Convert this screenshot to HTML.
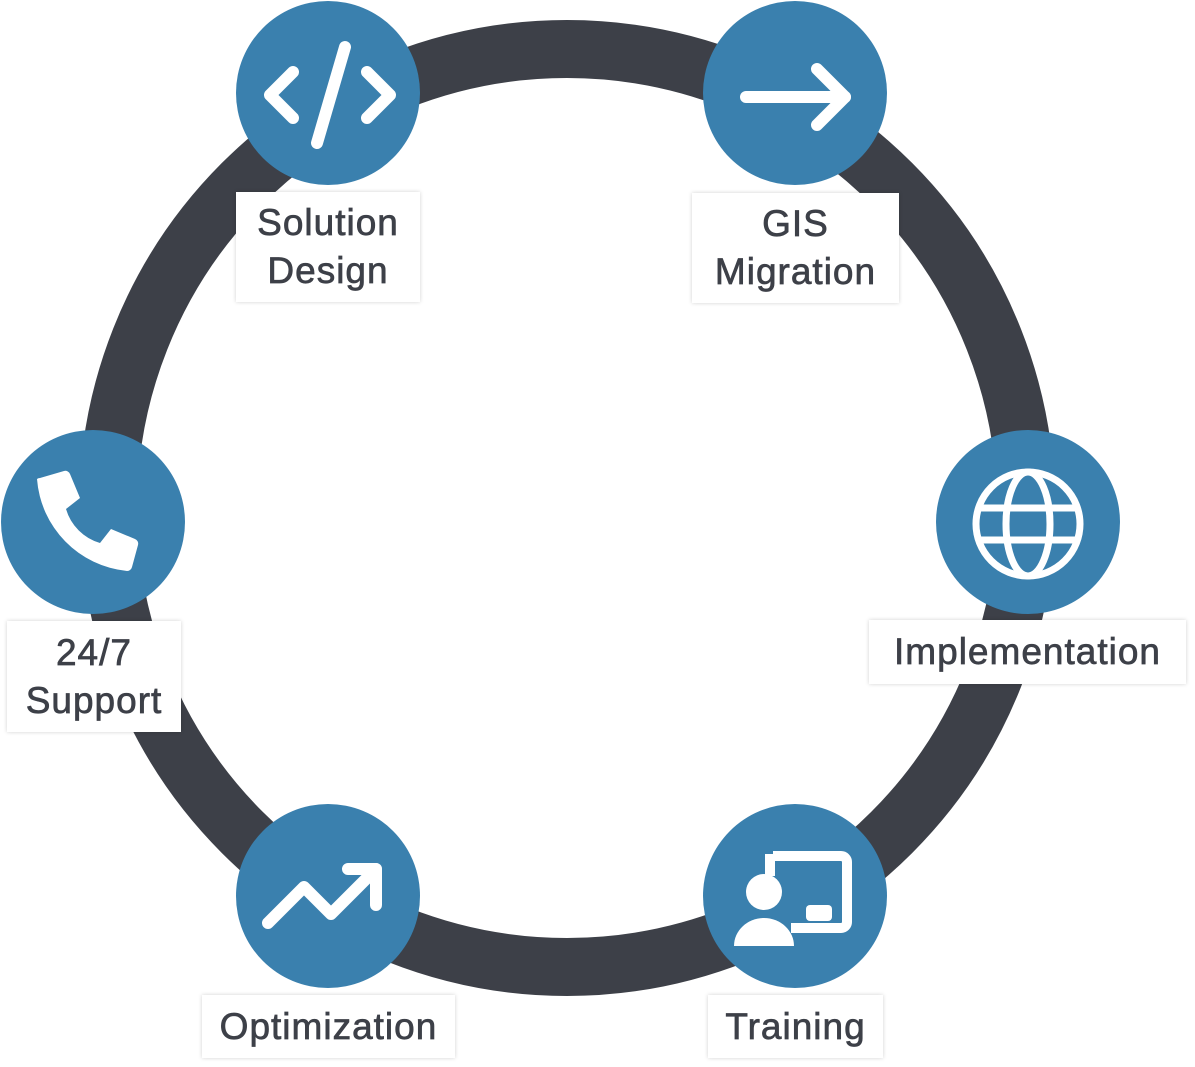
<!DOCTYPE html>
<html><head><meta charset="utf-8"><style>
html,body{margin:0;padding:0;background:#fff;width:1195px;height:1067px;overflow:hidden}
.lb{position:absolute;background:#fff;box-shadow:0 0 4px rgba(0,0,0,0.18);font-family:"Liberation Sans",sans-serif;font-size:37px;letter-spacing:1px;-webkit-text-stroke:0.7px #3d4048;color:#3d4048;text-align:center;line-height:48px;display:flex;align-items:center;justify-content:center}
</style></head><body>
<svg width="1195" height="1067" style="position:absolute;left:0;top:0">
<circle cx="567" cy="508" r="459" fill="none" stroke="#3d4048" stroke-width="58"/>
<g fill="#3a80ae">
<circle cx="328" cy="93" r="92"/><circle cx="795" cy="93" r="92"/>
<circle cx="1028" cy="522" r="92"/><circle cx="795" cy="896" r="92"/>
<circle cx="328" cy="896" r="92"/><circle cx="93" cy="522" r="92"/>
</g>
<g stroke="#fff" stroke-width="12" stroke-linecap="round" stroke-linejoin="round" fill="none">
<polyline points="293,72 270,95 293,118"/><polyline points="367,72 390,95 367,118"/><line x1="345" y1="47" x2="317" y2="143"/>
<line x1="746" y1="97" x2="845" y2="97"/><polyline points="817,69 845,97 817,125"/>
<polyline points="268,923 304,887 331,914 376,869"/><polyline points="348,869 376,869 376,905"/>
</g>
<g fill="none" stroke="#fff" stroke-width="7">
<circle cx="1028" cy="524" r="52"/><ellipse cx="1028" cy="524" rx="22" ry="52"/>
<line x1="976" y1="508" x2="1080" y2="508"/><line x1="976" y1="540" x2="1080" y2="540"/>
</g>
<path d="M773 856 h68 a6 6 0 0 1 6 6 v60 a6 6 0 0 1 -6 6 h-50" fill="none" stroke="#fff" stroke-width="10"/>
<path d="M770 854 v22" stroke="#fff" stroke-width="10"/>
<rect x="806" y="905" width="26" height="16" rx="4" fill="#fff"/>
<circle cx="764" cy="892" r="18" fill="#fff"/>
<path d="M734 946 a30 28 0 0 1 60 0 z" fill="#fff"/>
<path d="M40 478 l24 -7 a5 5 0 0 1 6 3 l10 24 l-14 11 a50 50 0 0 0 34 34 l11 -14 l24 10 a5 5 0 0 1 3 6 l-6 22 a5 5 0 0 1 -5 4 a100 100 0 0 1 -90 -92 a5 5 0 0 1 3 -1z" fill="#fff"/>
</svg>
<div class="lb" style="left:236px;top:192px;width:184px;height:110px">Solution<br>Design</div>
<div class="lb" style="left:692px;top:193px;width:207px;height:110px">GIS<br>Migration</div>
<div class="lb" style="left:869px;top:620px;width:317px;height:64px">Implementation</div>
<div class="lb" style="left:7px;top:621px;width:174px;height:111px">24/7<br>Support</div>
<div class="lb" style="left:202px;top:995px;width:253px;height:63px">Optimization</div>
<div class="lb" style="left:708px;top:995px;width:175px;height:63px">Training</div>
</body></html>
